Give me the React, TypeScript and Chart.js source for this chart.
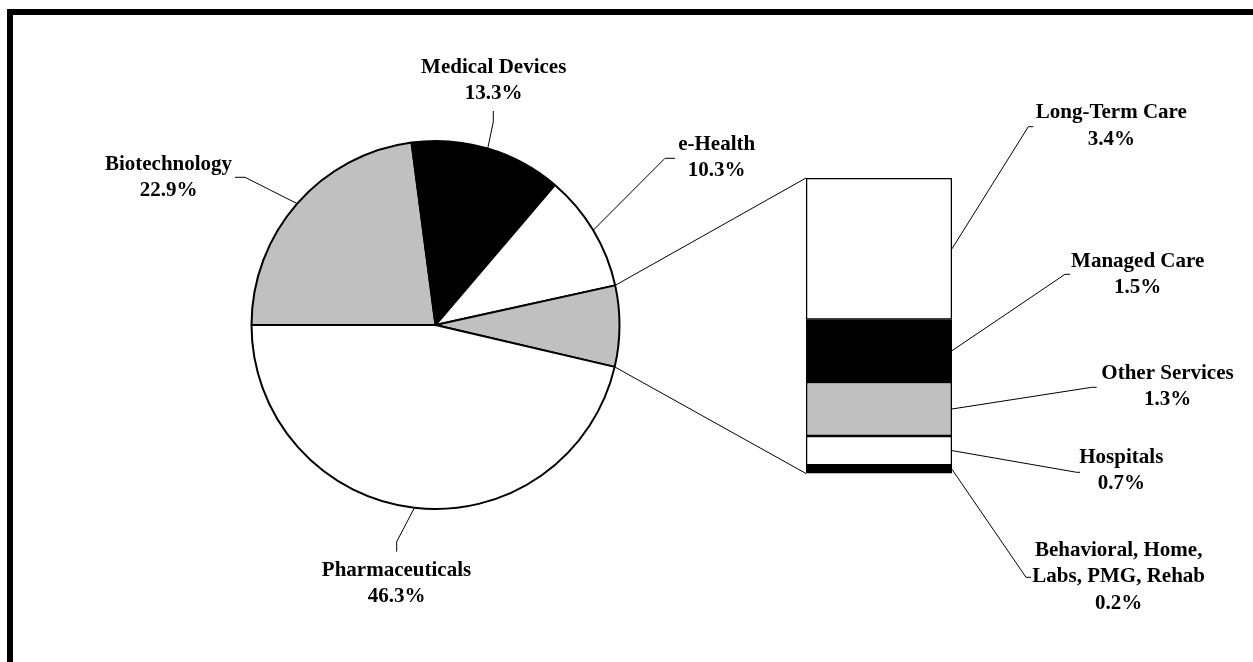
import React, { useEffect, useRef } from "react";
import { Chart, registerables } from "chart.js";

Chart.register(...registerables);

// ---- Data ----
const pieCategories = ["Biotechnology", "Medical Devices", "e-Health", "Services", "Pharmaceuticals"];
const pieValues = [22.9, 13.3, 10.3, 7.1, 46.3];
const pieColors = ["#c0c0c0", "#000000", "#ffffff", "#c0c0c0", "#ffffff"];
const pieLabelLines: string[][] = [["Biotechnology"], ["Medical Devices"], ["e-Health"], [], ["Pharmaceuticals"]];

// stacked bar, bottom to top
const barCategories = ["Behavioral, Home, Labs, PMG, Rehab", "Hospitals", "Other Services", "Managed Care", "Long-Term Care"];
const barValues = [0.2, 0.7, 1.3, 1.5, 3.4];
const barColors = ["#000000", "#ffffff", "#c0c0c0", "#000000", "#ffffff"];
const barLabelLines: string[][] = [["Behavioral, Home,", "Labs, PMG, Rehab"], ["Hospitals"], ["Other Services"], ["Managed Care"], ["Long-Term Care"]];

const W = 1253;
const H = 662;

// ---- Layout (label placement) ----
type LabelPos = { cx: number; y: number; elbow: [number, number]; end: [number, number] } | null;
const pieLabelPos: LabelPos[] = [
  { cx: 168.5, y: 170, elbow: [245, 177.3], end: [235, 177.3] },
  { cx: 493.7, y: 72.7, elbow: [493.3, 121.7], end: [493.3, 111] },
  { cx: 716.7, y: 150, elbow: [665, 158.3], end: [675, 158.3] },
  null,
  { cx: 396.5, y: 576, elbow: [396.7, 541.7], end: [396.7, 551.7] },
];
const barLabelPos: LabelPos[] = [
  { cx: 1118.7, y: 556, elbow: [1026, 577.3], end: [1031, 577.3] },
  { cx: 1121.3, y: 462.7, elbow: [1076.7, 472.3], end: [1080, 472.3] },
  { cx: 1167.5, y: 378.7, elbow: [1091.7, 387.3], end: [1096.7, 387.3] },
  { cx: 1137.7, y: 266.7, elbow: [1065, 274.3], end: [1070, 274.3] },
  { cx: 1111.3, y: 118.3, elbow: [1028.3, 126.7], end: [1033.3, 126.7] },
];

const FONT = "bold 21px 'Liberation Serif', 'Times New Roman', serif";
const LINE_H = 26.4;

function drawLabel(ctx: CanvasRenderingContext2D, lines: string[], cx: number, y: number) {
  ctx.save();
  ctx.font = FONT;
  ctx.fillStyle = "#000";
  ctx.textAlign = "center";
  ctx.textBaseline = "alphabetic";
  lines.forEach((t, i) => ctx.fillText(t, cx, y + i * LINE_H));
  ctx.restore();
}

function drawLeader(ctx: CanvasRenderingContext2D, ax: number, ay: number, pos: NonNullable<LabelPos>) {
  ctx.save();
  ctx.strokeStyle = "#000";
  ctx.lineWidth = 1;
  ctx.beginPath();
  ctx.moveTo(ax, ay);
  ctx.lineTo(pos.elbow[0], pos.elbow[1]);
  ctx.lineTo(pos.end[0], pos.end[1]);
  ctx.stroke();
  ctx.restore();
}

export default function App() {
  const pieRef = useRef<HTMLCanvasElement | null>(null);
  const barRef = useRef<HTMLCanvasElement | null>(null);

  useEffect(() => {
    if (!pieRef.current || !barRef.current) return;
    const barTotal = barValues.reduce((a, b) => a + b, 0);

    const pie = new Chart(pieRef.current, {
      type: "pie",
      data: {
        labels: pieCategories,
        datasets: [
          {
            data: pieValues,
            backgroundColor: pieColors,
            borderColor: "#000000",
            borderWidth: 2,
            rotation: -90,
            radius: 184,
          } as any,
        ],
      },
      options: {
        responsive: false,
        animation: false,
        events: [],
        rotation: -90,
        radius: 184,
        layout: { padding: { left: 251.5, right: W - 619.5, top: 141, bottom: H - 509 } },
        plugins: { legend: { display: false }, tooltip: { enabled: false } },
      } as any,
    });

    const overlay = {
      id: "overlay",
      afterDraw(chart: any) {
        const ctx: CanvasRenderingContext2D = chart.ctx;
        const pm = pie.getDatasetMeta(0);
        const arcs: any[] = pm.data as any[];
        const bars: any[] = barValues.map((_, i) => chart.getDatasetMeta(i).data[0]);

        // connectors from pie "Services" slice to bar corners
        const sv = arcs[3];
        const topBar = bars[bars.length - 1];
        const botBar = bars[0];
        ctx.save();
        ctx.strokeStyle = "#000";
        ctx.lineWidth = 1;
        ctx.beginPath();
        ctx.moveTo(sv.x + sv.outerRadius * Math.cos(sv.startAngle), sv.y + sv.outerRadius * Math.sin(sv.startAngle));
        ctx.lineTo(topBar.x - topBar.width / 2, topBar.y);
        ctx.moveTo(sv.x + sv.outerRadius * Math.cos(sv.endAngle), sv.y + sv.outerRadius * Math.sin(sv.endAngle));
        ctx.lineTo(botBar.x - botBar.width / 2, botBar.base);
        ctx.stroke();
        ctx.restore();

        // pie labels
        arcs.forEach((a, i) => {
          const pos = pieLabelPos[i];
          if (!pos) return;
          const mid = (a.startAngle + a.endAngle) / 2;
          const ax = a.x + a.outerRadius * Math.cos(mid);
          const ay = a.y + a.outerRadius * Math.sin(mid);
          drawLeader(ctx, ax, ay, pos);
          drawLabel(ctx, [...pieLabelLines[i], pieValues[i].toFixed(1) + "%"], pos.cx, pos.y);
        });

        // bar labels
        bars.forEach((b, i) => {
          const pos = barLabelPos[i];
          if (!pos) return;
          const ax = b.x + b.width / 2;
          const ay = (b.y + b.base) / 2;
          drawLeader(ctx, ax, ay, pos);
          drawLabel(ctx, [...barLabelLines[i], barValues[i].toFixed(1) + "%"], pos.cx, pos.y);
        });
      },
    };

    const bar = new Chart(barRef.current, {
      type: "bar",
      data: {
        labels: ["Services"],
        datasets: barCategories.map((name, i) => ({
          label: name,
          data: [barValues[i]],
          backgroundColor: barColors[i],
          borderColor: "#000000",
          borderWidth: 1.6,
          borderSkipped: false,
          barPercentage: 1,
          categoryPercentage: 1,
        })),
      },
      options: {
        responsive: false,
        animation: false,
        events: [],
        layout: { padding: { left: 806, right: W - 952, top: 178, bottom: H - 473.5 } },
        scales: {
          x: { stacked: true, display: false },
          y: { stacked: true, display: false, min: 0, max: barTotal },
        },
        plugins: { legend: { display: false }, tooltip: { enabled: false } },
      } as any,
      plugins: [overlay],
    });

    return () => {
      bar.destroy();
      pie.destroy();
    };
  }, []);

  return (
    <div style={{ position: "absolute", left: 0, top: 0, width: W, height: H, background: "#fff", overflow: "hidden" }}>
      <div
        style={{
          position: "absolute",
          left: 7,
          top: 9,
          width: W - 7,
          height: H - 9,
          borderTop: "6px solid #000",
          borderLeft: "6px solid #000",
          boxSizing: "border-box",
        }}
      />
      <canvas ref={pieRef} width={W} height={H} style={{ position: "absolute", left: 0, top: 0, width: W, height: H }} />
      <canvas ref={barRef} width={W} height={H} style={{ position: "absolute", left: 0, top: 0, width: W, height: H }} />
    </div>
  );
}
